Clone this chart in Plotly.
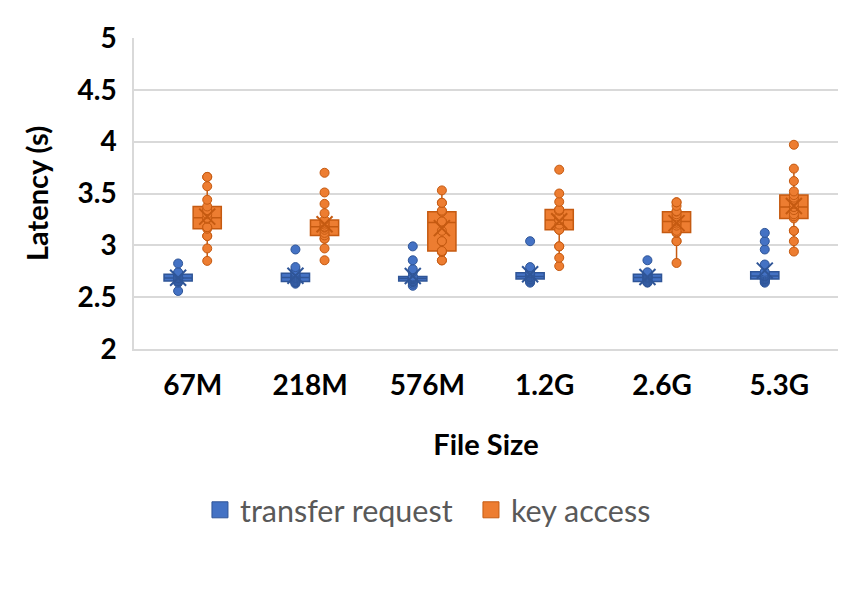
import numpy as np
import plotly.graph_objects as go

categories = ["67M", "218M", "576M", "1.2G", "2.6G", "5.3G"]
y_ticks = [2, 2.5, 3, 3.5, 4, 4.5, 5]
series_names = ["transfer request", "key access"]

# latency samples (s) per file size
transfer_request = [
    [2.56, 2.64, 2.65, 2.655, 2.655, 2.66, 2.67, 2.68, 2.685, 2.685, 2.69, 2.70, 2.71, 2.72, 2.73, 2.73, 2.74, 2.825],
    [2.63, 2.64, 2.645, 2.65, 2.65, 2.66, 2.67, 2.68, 2.69, 2.69, 2.70, 2.71, 2.72, 2.73, 2.74, 2.76, 2.79, 2.96],
    [2.61, 2.63, 2.645, 2.65, 2.655, 2.66, 2.67, 2.675, 2.68, 2.68, 2.685, 2.69, 2.695, 2.70, 2.74, 2.77, 2.856, 2.99],
    [2.64, 2.65, 2.66, 2.67, 2.675, 2.68, 2.69, 2.695, 2.70, 2.70, 2.71, 2.72, 2.73, 2.735, 2.74, 2.76, 2.79, 3.04],
    [2.64, 2.645, 2.65, 2.65, 2.65, 2.66, 2.67, 2.68, 2.69, 2.69, 2.70, 2.70, 2.71, 2.72, 2.72, 2.73, 2.74, 2.856],
    [2.64, 2.65, 2.66, 2.67, 2.675, 2.68, 2.69, 2.70, 2.705, 2.705, 2.71, 2.72, 2.73, 2.745, 2.815, 2.96, 3.04, 3.12],
]
key_access = [
    [2.85, 2.97, 3.09, 3.09, 3.16, 3.175, 3.175, 3.255, 3.265, 3.265, 3.30, 3.34, 3.34, 3.375, 3.44, 3.57, 3.66, 3.66],
    [2.856, 2.97, 3.064, 3.064, 3.096, 3.12, 3.15, 3.17, 3.18, 3.18, 3.20, 3.22, 3.22, 3.245, 3.31, 3.40, 3.51, 3.70],
    [2.855, 2.855, 2.935, 2.945, 2.945, 3.04, 3.04, 3.14, 3.22, 3.22, 3.23, 3.23, 3.325, 3.325, 3.335, 3.41, 3.41, 3.53],
    [2.80, 2.88, 2.99, 2.99, 3.15, 3.15, 3.20, 3.245, 3.245, 3.245, 3.28, 3.335, 3.335, 3.345, 3.345, 3.42, 3.50, 3.73],
    [2.83, 3.04, 3.04, 3.12, 3.125, 3.14, 3.19, 3.21, 3.23, 3.23, 3.25, 3.28, 3.30, 3.325, 3.33, 3.38, 3.415, 3.415],
    [2.94, 3.04, 3.14, 3.14, 3.26, 3.28, 3.30, 3.34, 3.37, 3.37, 3.40, 3.44, 3.46, 3.485, 3.52, 3.62, 3.74, 3.97],
]

FILLS = ["#4472C4", "#ED7D31"]
EDGES = ["#2F5597", "#C55A11"]
OFFSET = 0.124
BOX_W = 0.24
FONT = "Lato"

fig = go.Figure()

for k, (series, name) in enumerate(zip([transfer_request, key_access], series_names)):
    side = -1 if k == 0 else 1
    pos = [i + side * OFFSET for i in range(len(categories))]
    xs, ys = [], []
    for p, vals in zip(pos, series):
        xs += [p] * len(vals)
        ys += vals
    fig.add_trace(go.Box(
        x=xs, y=ys, name=name, width=BOX_W,
        boxpoints="all", jitter=0, pointpos=0,
        quartilemethod="linear",
        fillcolor=FILLS[k], line=dict(color=EDGES[k], width=1.5),
        whiskerwidth=0.3,
        marker=dict(color=FILLS[k], size=9, line=dict(color=EDGES[k], width=1)),
        showlegend=False, hoverinfo="y",
    ))
    means = [float(np.mean(v)) for v in series]
    fig.add_trace(go.Scatter(
        x=pos, y=means, mode="markers",
        marker=dict(symbol="x-thin", size=16, line=dict(color=EDGES[k], width=2)),
        showlegend=False, hoverinfo="skip",
    ))
    # legend entry
    fig.add_trace(go.Scatter(
        x=[None], y=[None], mode="markers", name=name,
        marker=dict(symbol="square", size=16, color=FILLS[k], line=dict(color=EDGES[k], width=1)),
    ))

fig.update_layout(
    width=853, height=590,
    margin=dict(l=126, r=23, t=28, b=249),
    paper_bgcolor="white", plot_bgcolor="white",
    boxmode="overlay",
    showlegend=True,
    legend=dict(
        orientation="h", x=0.0937, xanchor="left", y=-0.5176, yanchor="middle",
        entrywidth=226, entrywidthmode="pixels",
        font=dict(family=FONT, size=30.5, color="#595959"),
        itemclick=False, itemdoubleclick=False,
    ),
    xaxis=dict(
        range=[-0.5, 5.5], tickmode="array",
        tickvals=list(range(len(categories))), ticktext=categories,
        showgrid=False, zeroline=False, showline=True, linecolor="#D9D9D9", linewidth=1.5,
        ticks="", ticklabelstandoff=11,
        tickfont=dict(family=FONT, size=28, color="black", weight="bold"),
        title=dict(text="File Size", standoff=34,
                   font=dict(family=FONT, size=29, color="black", weight="bold")),
    ),
    yaxis=dict(
        range=[2, 5], tickmode="array", tickvals=y_ticks,
        showgrid=True, gridcolor="#D9D9D9", gridwidth=1.5,
        zeroline=False, showline=True, linecolor="#D9D9D9", linewidth=1.5,
        ticks="", ticklabelstandoff=10,
        tickfont=dict(family=FONT, size=28, color="black", weight="bold"),
        title=dict(text="Latency (s)", standoff=20,
                   font=dict(family=FONT, size=29, color="black", weight="bold")),
    ),
)

fig.write_html("out.html")
